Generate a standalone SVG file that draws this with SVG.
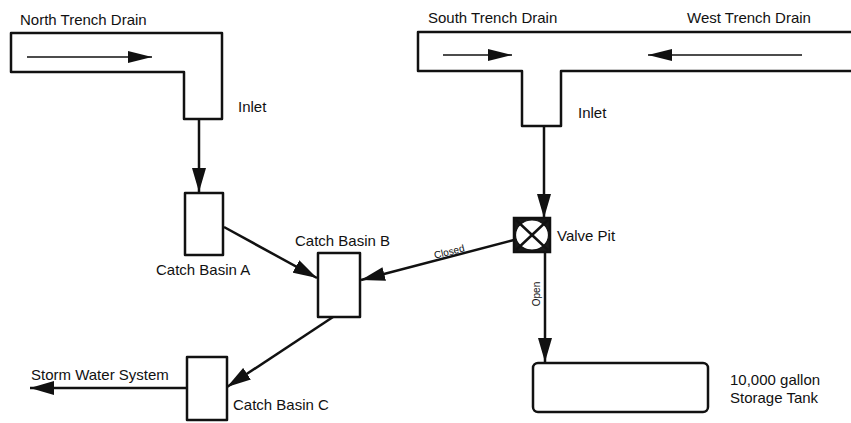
<svg xmlns="http://www.w3.org/2000/svg" width="851" height="423" viewBox="0 0 851 423">
<style>
.t{font-family:"Liberation Sans",Arial,sans-serif;font-size:15px;fill:#111}
.s{font-family:"Liberation Sans",Arial,sans-serif;font-size:10px;fill:#111}
.o{fill:#fff;stroke:#111;stroke-width:2.5;stroke-linejoin:round}
.c{fill:none;stroke:#111;stroke-width:2.5}
.f{fill:none;stroke:#111;stroke-width:1.6}
</style>
<defs>
<marker id="ah" markerUnits="userSpaceOnUse" markerWidth="24" markerHeight="14" refX="24" refY="7" orient="auto">
<path d="M0,0 L24,7 L0,14 z" fill="#111"/>
</marker>
<marker id="ahs" markerUnits="userSpaceOnUse" markerWidth="24" markerHeight="12" refX="24" refY="6" orient="auto">
<path d="M0,0 L24,6 L0,12 z" fill="#111"/>
</marker>
</defs>

<g id="north-trench">
<path class="o" d="M11,33 H222 V119 H184 V72 H11 Z"/>
<line class="f" x1="27" y1="57" x2="152" y2="57" marker-end="url(#ahs)"/>
<text class="t" x="20" y="25">North Trench Drain</text>
<text class="t" x="238" y="112">Inlet</text>
</g>

<g id="south-trench">
<path class="o" d="M853,32 H418 V71 H522 V126 H561 V71 H853"/>
<line class="f" x1="443" y1="55" x2="512" y2="55" marker-end="url(#ahs)"/>
<line class="f" x1="802" y1="55" x2="648" y2="55" marker-end="url(#ahs)"/>
<text class="t" x="428" y="23">South Trench Drain</text>
<text class="t" x="687" y="23">West Trench Drain</text>
<text class="t" x="578" y="118">Inlet</text>
</g>

<g id="catch-basin-a">
<rect class="o" x="185" y="193" width="38" height="62"/>
<text class="t" x="156" y="275">Catch Basin A</text>
</g>

<g id="catch-basin-b">
<rect class="o" x="318" y="253" width="42" height="64"/>
<text class="t" x="295" y="246">Catch Basin B</text>
</g>

<g id="catch-basin-c">
<rect class="o" x="187" y="357" width="40" height="63"/>
<text class="t" x="233" y="410">Catch Basin C</text>
</g>

<g id="valve-pit">
<rect x="514" y="218" width="36" height="34" fill="#1a1a1a" stroke="#111" stroke-width="2.5"/>
<ellipse cx="532" cy="235" rx="16.5" ry="15" fill="#fff" stroke="#111" stroke-width="1.2"/>
<line class="c" x1="516" y1="220" x2="548" y2="250"/>
<line class="c" x1="548" y1="220" x2="516" y2="250"/>
<text class="t" x="557" y="241">Valve Pit</text>
</g>

<g id="storage-tank">
<rect class="o" x="533" y="363" width="175" height="49" rx="5"/>
<text class="t" x="730" y="385">10,000 gallon</text>
<text class="t" x="730" y="403">Storage Tank</text>
</g>

<g id="storm-water">
<text class="t" x="31" y="380">Storm Water System</text>
</g>

<g id="connectors">
<line class="c" x1="544" y1="126" x2="544" y2="218" marker-end="url(#ah)"/>
<line class="c" x1="199" y1="119" x2="199" y2="192" marker-end="url(#ah)"/>
<line class="c" x1="224" y1="227" x2="317" y2="278" marker-end="url(#ah)"/>
<line class="c" x1="514" y1="240" x2="361" y2="280" marker-end="url(#ah)"/>
<line class="c" x1="545" y1="252" x2="545" y2="362" marker-end="url(#ah)"/>
<line class="c" x1="333" y1="317" x2="227" y2="387" marker-end="url(#ah)"/>
<line class="c" x1="187" y1="388" x2="30" y2="388" marker-end="url(#ah)"/>
<text class="s" transform="translate(450,255) rotate(-14)" text-anchor="middle">Closed</text>
<text class="s" transform="translate(540,294) rotate(-90)" text-anchor="middle">Open</text>
</g>
</svg>
